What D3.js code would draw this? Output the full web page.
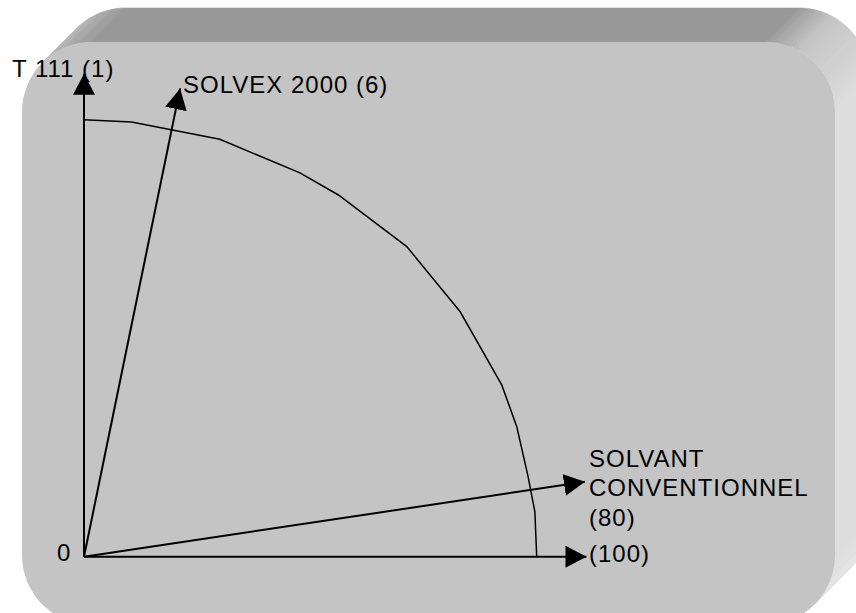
<!DOCTYPE html>
<html>
<head>
<meta charset="utf-8">
<script src="https://cdn.jsdelivr.net/npm/d3@7"></script>
<style>
  body { margin: 0; background: #fff; }
  text { font-family: "Liberation Sans", Arial, sans-serif; font-size: 24px; letter-spacing: 1px; fill: #000; }
</style>
</head>
<body>
<div id="chart"></div>
<script>
// diagramme : front des solvants (repere 0..100 sur l'axe horizontal)

// courbe (x, y) en unites du repere
const curveX = [0, 10.5, 30.0, 47.7, 56.2, 71.3, 83.1, 92.3, 95.6, 98.1, 99.6, 100];
const curveY = [96.5, 96.0, 92.2, 84.8, 79.9, 68.5, 54.1, 37.9, 28.7, 17.7, 9.9, 0];

// fleches depuis l'origine : angle (degres) et longueur
const arrowNames = ["T 111 (1)", "SOLVEX 2000 (6)", "SOLVANT CONVENTIONNEL (80)", "(100)"];
const arrowAngles = [90, 78.4, 8.5, 0];
const arrowLengths = [106.7, 105.6, 111.9, 111];

const originLabel = "0";

const width = 856, height = 613;
const ox = 84, oy = 556.7, unit = 4.527;

const svg = d3.select("#chart").append("svg")
    .attr("width", width)
    .attr("height", height)
    .attr("viewBox", [0, 0, width, height]);

// scales - same unit on both axes
const x = d3.scaleLinear().domain([0, 111]).range([ox, ox + 111 * unit]);
const y = d3.scaleLinear().domain([0, 111]).range([oy, oy - 111 * unit]);

// ---- fond en relief (rectangle arrondi extrude) ----
const front = {x0: 22, y0: 42, x1: 835, y1: 625, r: 70};
const depth = [34, -34];

function roundedPts(b, n) {
    const c = [
        [b.x0 + b.r, b.y0 + b.r, Math.PI, 1.5 * Math.PI],
        [b.x1 - b.r, b.y0 + b.r, 1.5 * Math.PI, 2 * Math.PI],
        [b.x1 - b.r, b.y1 - b.r, 0, 0.5 * Math.PI],
        [b.x0 + b.r, b.y1 - b.r, 0.5 * Math.PI, Math.PI]
    ];
    let pts = [];
    c.forEach(([cx, cy, a0, a1]) => {
        for (let i = 0; i <= n; i++) {
            const a = a0 + (a1 - a0) * i / n;
            pts.push({x: cx + b.r * Math.cos(a), y: cy + b.r * Math.sin(a), a: a});
        }
    });
    return pts;
}

const shade = d3.scaleLinear()
    .domain([-45, 0, 60, 90, 135])
    .range(["#e6e6e6", "#dddddd", "#c4c4c4", "#989898", "#bdbdbd"])
    .clamp(true);

const pts = roundedPts(front, 40);
const sides = svg.append("g");
for (let i = 0; i < pts.length; i++) {
    const p = pts[i], q = pts[(i + 1) % pts.length];
    const nx = Math.cos(p.a) + Math.cos(q.a), ny = Math.sin(p.a) + Math.sin(q.a);
    if (nx * depth[0] + ny * depth[1] <= 0) continue;
    const theta = -Math.atan2(ny, nx) * 180 / Math.PI;
    const col = shade(theta);
    sides.append("polygon")
        .attr("points", [[p.x, p.y], [q.x, q.y], [q.x + depth[0], q.y + depth[1]], [p.x + depth[0], p.y + depth[1]]].join(" "))
        .attr("fill", col)
        .attr("stroke", col)
        .attr("stroke-width", 0.6);
}

svg.append("rect")
    .attr("x", front.x0).attr("y", front.y0)
    .attr("width", front.x1 - front.x0).attr("height", front.y1 - front.y0)
    .attr("rx", front.r).attr("ry", front.r)
    .attr("fill", "#c4c4c4");

// arrow head
svg.append("defs").append("marker")
    .attr("id", "head")
    .attr("viewBox", "0 0 21 22")
    .attr("refX", 21).attr("refY", 11)
    .attr("markerWidth", 21).attr("markerHeight", 22)
    .attr("markerUnits", "userSpaceOnUse")
    .attr("orient", "auto")
    .append("path")
    .attr("d", "M0,0L21,11L0,22Z")
    .attr("fill", "#000");

// ---- courbe ----
const line = d3.line().x(d => x(d[0])).y(d => y(d[1]));
svg.append("path")
    .datum(d3.zip(curveX, curveY))
    .attr("d", line)
    .attr("fill", "none")
    .attr("stroke", "#000")
    .attr("stroke-width", 1.5);

// ---- fleches ----
const arrows = arrowNames.map((name, i) => {
    const a = arrowAngles[i] * Math.PI / 180;
    return {name: name, tx: arrowLengths[i] * Math.cos(a), ty: arrowLengths[i] * Math.sin(a)};
});

svg.selectAll(".arrow")
    .data(arrows)
    .join("line")
    .attr("class", "arrow")
    .attr("x1", x(0)).attr("y1", y(0))
    .attr("x2", d => x(d.tx)).attr("y2", d => y(d.ty))
    .attr("stroke", "#000")
    .attr("stroke-width", 2)
    .attr("marker-end", "url(#head)");

// ---- textes ----
svg.append("text").attr("x", 12).attr("y", 77).text(arrowNames[0]);
svg.append("text").attr("x", 183).attr("y", 92.5).text(arrowNames[1]);

const conv = svg.append("text").attr("x", 589).attr("y", 466.5);
["SOLVANT", "CONVENTIONNEL", "(80)"].forEach((t, i) => {
    conv.append("tspan").attr("x", 589).attr("dy", i ? 29.5 : 0).text(t);
});

svg.append("text").attr("x", 589).attr("y", 561.5).text(arrowNames[3]);
svg.append("text").attr("x", 57).attr("y", 560.5).text(originLabel);
</script>
</body>
</html>
